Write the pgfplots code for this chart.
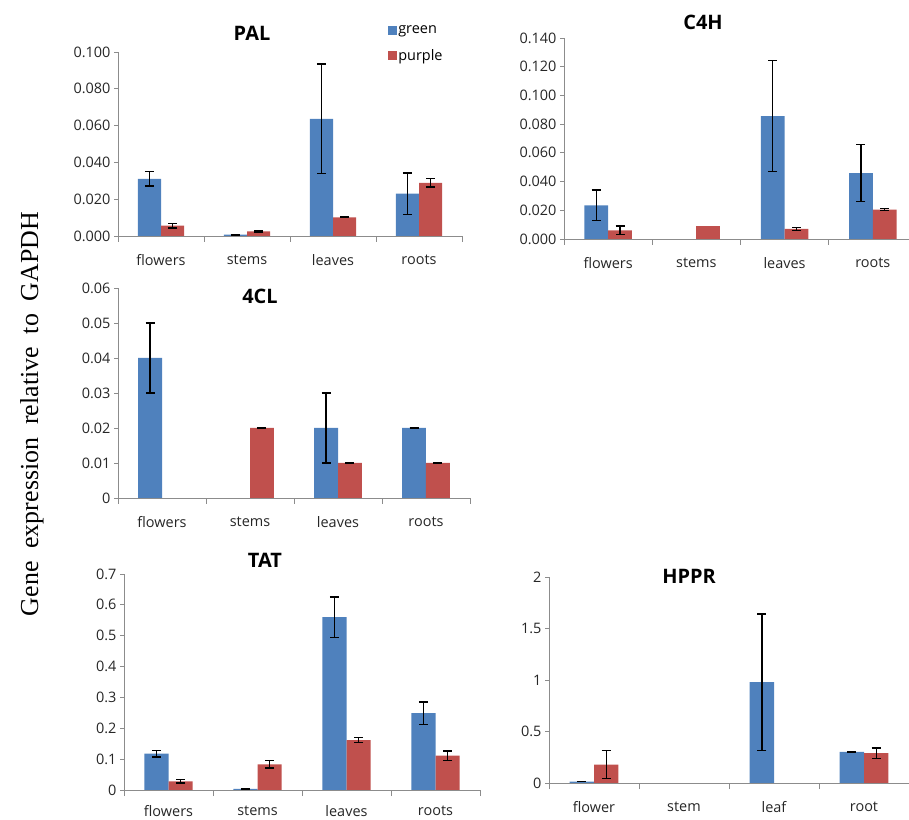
\documentclass[border=0pt]{standalone}
\usepackage{fontspec}
\setmainfont{Open Sans}
\newfontfamily\seriffont{Liberation Serif}
\usepackage{pgfplots}
\pgfplotsset{compat=1.18}
\definecolor{cblue}{HTML}{4F81BD}
\definecolor{cred}{HTML}{C0504D}
\definecolor{axgray}{HTML}{8C8C8C}
\newcommand{\tfont}{\fontsize{14.5}{16}\selectfont}
\pgfplotsset{
  panel/.style={
    scale only axis, anchor=south west,
    ybar=0pt, bar width=0.27,
    xmin=0, xmax=4, ymin=0,
    scaled y ticks=false,
    axis x line*=bottom, axis y line*=left,
    axis line style={draw=axgray, line width=0.9pt, -},
    tick align=outside,
    xtick={0.5,1.5,2.5,3.5},
    minor xtick={0,1,2,3,4},
    major x tick style={draw=none},
    minor x tick style={draw=axgray, line width=0.9pt},
    minor tick length=6bp,
    major tick length=4bp,
    y tick style={draw=axgray, line width=0.9pt},
    ticklabel style={font=\tfont, text=black!85},
    xticklabels={flowers,stems,leaves,roots},
    clip=false,
  },
  ebar/.style={
    error bars/y dir=both, error bars/y explicit,
    error bars/error bar style={draw=black, line width=1.3pt},
    error bars/error mark options={draw=black, line width=1.3pt, mark size=4.5bp, rotate=90},
  },
  gbar/.style={fill=cblue, draw=none, bar shift=-0.135, ebar},
  rbar/.style={fill=cred, draw=none, bar shift=0.135, ebar},
}
\begin{document}
\begin{tikzpicture}
\useasboundingbox (0,0) rectangle (909bp,820bp);

% PAL
\begin{axis}[panel, at={(118bp,584bp)}, width=344bp, height=184bp,
  xticklabel style={yshift=-11bp},
  ymax=0.1, ytick={0,0.02,0.04,0.06,0.08,0.1},
  yticklabels={0.000,0.020,0.040,0.060,0.080,0.100},
  legend style={at={(0.775,1.163)}, anchor=north west, draw=none, fill=none,
    font=\tfont, row sep=11bp, nodes={inner sep=1.5bp}, cells={anchor=west}},
  legend image code/.code={\fill[#1] (0bp,-4.5bp) rectangle (9bp,4.5bp);}]
\addplot[gbar] coordinates {(0.5,0.0311) +- (0,0.0040) (1.5,0.0007) +- (0,0.0002) (2.5,0.0637) +- (0,0.0298) (3.5,0.0230) +- (0,0.0113)};
\addplot[rbar] coordinates {(0.5,0.0056) +- (0,0.0013) (1.5,0.0025) +- (0,0.0003) (2.5,0.0101) +- (0,0.0002) (3.5,0.0289) +- (0,0.0022)};
\legend{green,purple}
\end{axis}

% C4H
\begin{axis}[panel, at={(564bp,581bp)}, width=345bp, height=201bp, xmax=3.91,
  xticklabel style={yshift=-11bp},
  ymax=0.14, ytick={0,0.02,0.04,0.06,0.08,0.1,0.12,0.14},
  yticklabels={0.000,0.020,0.040,0.060,0.080,0.100,0.120,0.140}]
\addplot[gbar] coordinates {(0.5,0.0235) +- (0,0.0107) (2.5,0.0856) +- (0,0.0385) (3.5,0.0458) +- (0,0.0198)};
\addplot[rbar] coordinates {(0.5,0.0060) +- (0,0.0030) (2.5,0.0070) +- (0,0.0010) (3.5,0.0205) +- (0,0.0008)};
\addplot[fill=cred, draw=none, bar shift=0.135] coordinates {(1.5,0.0088)};
\end{axis}

% 4CL
\begin{axis}[panel, at={(118bp,322bp)}, width=352bp, height=210bp,
  xticklabel style={yshift=-11bp},
  ymax=0.06, ytick={0,0.01,0.02,0.03,0.04,0.05,0.06},
  yticklabels={0,0.01,0.02,0.03,0.04,0.05,0.06}]
\addplot[gbar] coordinates {(0.5,0.040) +- (0,0.010) (2.5,0.020) +- (0,0.010) (3.5,0.020) +- (0,0)};
\addplot[rbar] coordinates {(1.5,0.020) +- (0,0) (2.5,0.010) +- (0,0) (3.5,0.010) +- (0,0)};
\end{axis}

% TAT
\begin{axis}[panel, at={(124bp,30bp)}, width=356bp, height=216bp,
  xticklabel style={yshift=-8bp},
  ymax=0.7, ytick={0,0.1,0.2,0.3,0.4,0.5,0.6,0.7},
  yticklabels={0,0.1,0.2,0.3,0.4,0.5,0.6,0.7}]
\addplot[gbar] coordinates {(0.5,0.118) +- (0,0.011) (1.5,0.004) +- (0,0.002) (2.5,0.560) +- (0,0.065) (3.5,0.249) +- (0,0.036)};
\addplot[rbar] coordinates {(0.5,0.028) +- (0,0.005) (1.5,0.083) +- (0,0.012) (2.5,0.162) +- (0,0.009) (3.5,0.111) +- (0,0.015)};
\end{axis}

% HPPR
\begin{axis}[panel, at={(549bp,37bp)}, width=360bp, height=206bp,
  xticklabel style={yshift=-11bp},
  ymax=2, ytick={0,0.5,1,1.5,2},
  yticklabels={0,0.5,1,1.5,2},
  xticklabels={flower,stem,leaf,root}]
\addplot[gbar] coordinates {(0.5,0.013) +- (0,0) (2.5,0.979) +- (0,0.661) (3.5,0.301) +- (0,0)};
\addplot[rbar] coordinates {(0.5,0.178) +- (0,0.136) (3.5,0.290) +- (0,0.050)};
\end{axis}

% titles
\node[font=\bfseries\fontsize{20}{24}\selectfont] at (252bp,786.5bp) {PAL};
\node[font=\bfseries\fontsize{20}{24}\selectfont] at (703bp,797.5bp) {C4H};
\node[font=\bfseries\fontsize{20}{24}\selectfont] at (260bp,524bp) {4CL};
\node[font=\bfseries\fontsize{20}{24}\selectfont] at (265bp,260bp) {TAT};
\node[font=\bfseries\fontsize{20}{24}\selectfont] at (689bp,244bp) {HPPR};

% y label
\node[rotate=90, anchor=base, font=\seriffont\fontsize{26}{30}\selectfont] at (38bp,406bp)
  {Gene\hspace{0.5em}expression\hspace{0.5em}relative\hspace{0.5em}to\hspace{0.5em}GAPDH};
\end{tikzpicture}
\end{document}
